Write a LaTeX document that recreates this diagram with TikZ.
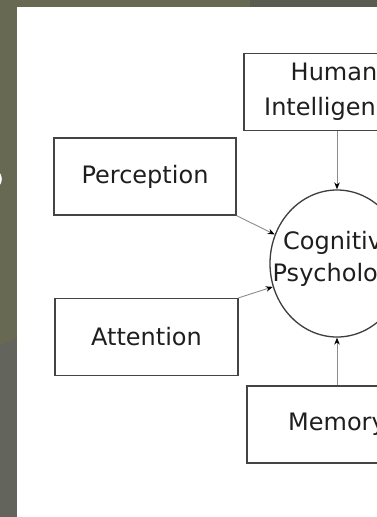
\documentclass[tikz,border=0pt]{standalone}
\usepackage{fontspec}
\setmainfont{DejaVu Sans}
\usetikzlibrary{shapes.geometric,arrows.meta}
\definecolor{olive}{HTML}{686952}
\definecolor{olivedark}{HTML}{5B5C50}
\definecolor{greylow}{HTML}{63645C}
\definecolor{boxline}{HTML}{444444}
\definecolor{linkgrey}{HTML}{8C8C8C}
\definecolor{txt}{HTML}{1E1E1E}
\begin{document}
\begin{tikzpicture}[x=1pt,y=-1pt,
  box/.style={draw=boxline, line width=1.4pt, fill=white, inner sep=0pt,
    minimum height=77pt, font=\fontsize{24}{35}\selectfont, text=txt, align=center},
  oval/.style={ellipse, draw=boxline!90!black, line width=1.3pt, inner sep=0pt,
    minimum width=134pt, minimum height=147pt},
  ovaltext/.style={font=\fontsize{24}{32}\selectfont, text=txt, align=center, inner sep=0pt},
  link/.style={draw=linkgrey, line width=0.9pt, -{Stealth[length=7pt,width=5.5pt,color=black]}}]
\useasboundingbox (0,0) rectangle (377,517);
\clip (0,0) rectangle (377,517);
% backgrounds
\fill[olive] (0,0) rectangle (377,517);
\fill[olivedark] (250,0) rectangle (377,8);
\fill[greylow] (0,345) -- (17,338) -- (17,517) -- (0,517) -- cycle;
\draw[white, line width=1.6pt] (-4,186) arc[start angle=90, end angle=-90, x radius=5, y radius=7];
\fill[white] (17,7) rectangle (377,517);
% nodes
\node[box, minimum width=180pt] (hum) at (334,92) {Human\\Intelligence};
\node[box, minimum width=182pt] (perc) at (145,176.5) {Perception};
\node[box, minimum width=183pt] (att) at (146.5,337) {Attention};
\node[box, minimum width=180pt] (mem) at (337,424.5) {Memory};
\node[oval] (cog) at (337,263.5) {};
\node[ovaltext] (cogtxt) at (340,259) {Cognitive\\Psychology};
% connectors
\draw[link] (hum.south -| cog.north) -- (cog.north);
\draw[link] (mem.north -| cog.south) -- (cog.south);
\draw[link] (perc.south east) -- (cog.155);
\draw[link] (att.north east) -- (cog.200);
\end{tikzpicture}
\end{document}
